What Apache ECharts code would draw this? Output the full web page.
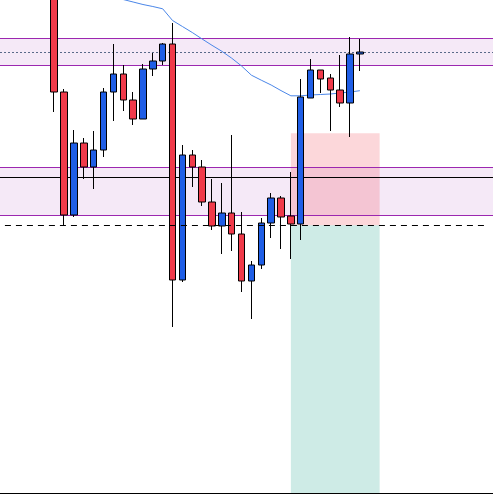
<!DOCTYPE html>
<html><head><meta charset="utf-8">
<script src="https://cdn.jsdelivr.net/npm/echarts@6/dist/echarts.min.js"></script>
<style>html,body{margin:0;padding:0;background:#fff}#c{width:493px;height:503px}</style>
</head><body><div id="c"></div>
<script>
// bar slots on the time axis (empty slots before and after the candles)
const leadingEmpty = 5;
const trailingEmpty = 13;
// candle values (chart units)
const opens  = [508,401,278,350,326,343,401,419,393,374,424,432,449,213,338,326,291,267,280,259,212,228,270,295,277,269,395,423,415,403,390,439];
const closes = [401,278,350,326,343,401,419,393,374,424,432,449,213,338,326,291,267,280,259,212,228,270,295,276,269,396,423,414,403,390,439,441];
const lows   = [381,268,276,314,304,336,372,382,368,374,417,428,166,211,306,287,263,239,242,201,174,224,255,244,234,253,395,400,362,386,356,422];
const highs  = [513,404,363,355,362,405,449,428,401,429,440,450,470,348,343,333,314,310,358,281,232,275,300,297,321,414,434,423,419,438,456,454];
// moving average
const ma = [null,null,null,null,null,501,497,493.5,491,488.5,486.5,484.2,472.5,466.5,460.5,454,447.7,441.7,434.8,427,417.8,412.8,408,402.4,397.2,397.2,398,398.5,399,400,401,402.3];
// horizontal levels
const upperZone = [427.7, 454.3];
const upperMid = 441;
const lowerZone = [277.7, 325.7];
const lowerMid = 315.7;
const entryLevel = 267.7;
const stopLevel = 359.7;
const targetLevel = 0;
// position box: from candle index to candle slot index
const positionStart = 24;
const positionEnd = 33;

const total = leadingEmpty + opens.length + trailingEmpty;
const categories = [];
for (let i = 0; i < total; i++) categories.push('bar ' + (i + 1));
const candleData = [];
const maData = [];
for (let i = 0; i < total; i++) {
  const k = i - leadingEmpty;
  if (k >= 0 && k < opens.length) {
    candleData.push([opens[k], closes[k], lows[k], highs[k]]);
    maData.push(ma[k] == null ? '-' : ma[k]);
  } else {
    candleData.push('-');
    maData.push('-');
  }
}
const boxL = categories[leadingEmpty + positionStart];
const boxR = categories[leadingEmpty + positionEnd];

const chart = echarts.init(document.getElementById('c'));
chart.setOption({
  animation: false,
  backgroundColor: '#ffffff',
  grid: {left: 0, right: 0, top: 0, bottom: 10},
  xAxis: {
    type: 'category', data: categories, boundaryGap: true,
    axisLine: {show: true, lineStyle: {color: '#000', width: 1}},
    axisTick: {show: false}, axisLabel: {show: false}, splitLine: {show: false}
  },
  yAxis: {
    type: 'value', min: 0, max: 493, show: false, splitLine: {show: false}
  },
  series: [
    {
      type: 'line', name: 'MA', data: maData, z: 2, symbol: 'none', smooth: false,
      lineStyle: {color: '#4a86e8', width: 1}, connectNulls: false,
      markLine: {
        z: 6, silent: true, symbol: ['none', 'none'], label: {show: false},
        lineStyle: {color: '#000', type: [6, 5], width: 1},
        data: [[{xAxis: categories[0], yAxis: entryLevel}, {xAxis: categories[total - 1], yAxis: entryLevel}]]
      }
    },
    {
      type: 'candlestick', name: 'price', data: candleData, z: 3, barWidth: 7, clip: true,
      itemStyle: {
        color: '#1f5ee6', color0: '#f03a4a',
        borderColor: '#000', borderColor0: '#000', borderWidth: 1
      },
      markArea: {
        z: 1, silent: true, label: {show: false},
        data: [
          [{yAxis: upperZone[0], itemStyle: {color: 'rgba(156,39,176,0.1)'}}, {yAxis: upperZone[1]}],
          [{yAxis: lowerZone[0], itemStyle: {color: 'rgba(156,39,176,0.1)'}}, {yAxis: lowerZone[1]}],
          [{xAxis: boxL, yAxis: entryLevel, itemStyle: {color: 'rgba(242,54,69,0.2)'}}, {xAxis: boxR, yAxis: stopLevel}],
          [{xAxis: boxL, yAxis: targetLevel, itemStyle: {color: 'rgba(8,153,129,0.2)'}}, {xAxis: boxR, yAxis: entryLevel}]
        ]
      },
      markLine: {
        z: 1, silent: true, symbol: ['none', 'none'], label: {show: false},
        data: [
          {yAxis: upperZone[0], lineStyle: {color: '#9c27b0', width: 1, type: 'solid'}},
          {yAxis: upperZone[1], lineStyle: {color: '#9c27b0', width: 1, type: 'solid'}},
          {yAxis: upperMid, lineStyle: {color: '#5a6a8a', width: 1, type: [2, 2]}},
          {yAxis: lowerZone[0], lineStyle: {color: '#9c27b0', width: 1, type: 'solid'}},
          {yAxis: lowerZone[1], lineStyle: {color: '#9c27b0', width: 1, type: 'solid'}},
          {yAxis: lowerMid, lineStyle: {color: '#000', width: 1, type: 'solid'}}
        ]
      }
    }
  ]
});
</script>
</body></html>
